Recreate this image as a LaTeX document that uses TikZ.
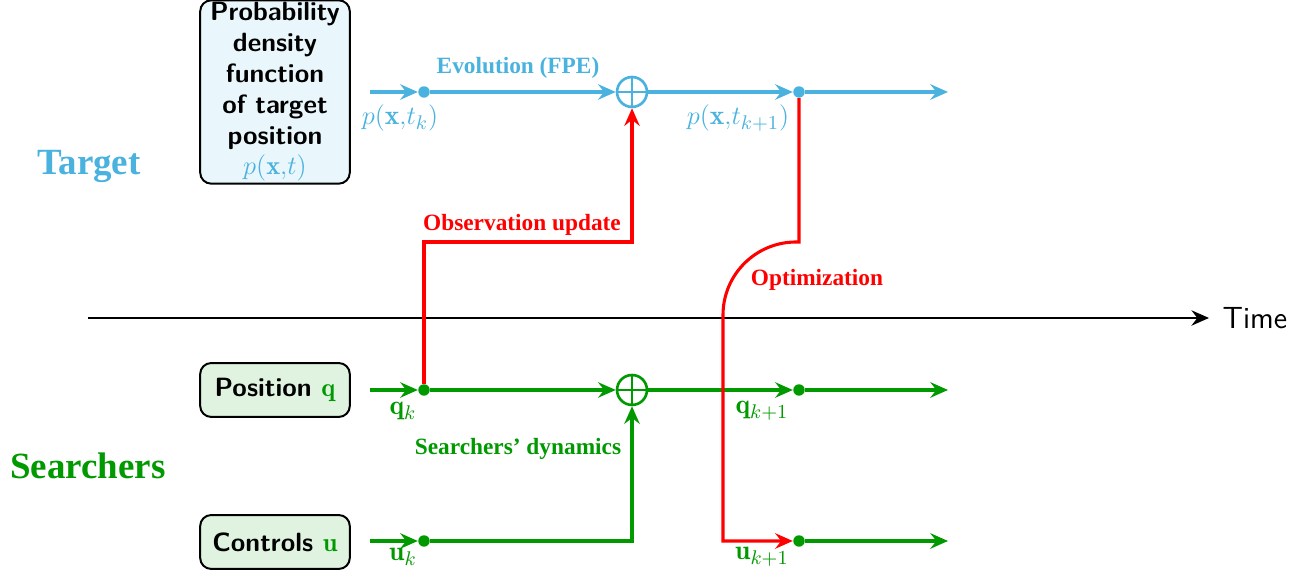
\documentclass[tikz,border=0pt]{standalone}
\usepackage{fontspec}
\usetikzlibrary{arrows.meta,positioning,calc}
\newfontfamily\lblfont{Liberation Serif}
\definecolor{tblue}{RGB}{74,178,222}
\definecolor{tgreen}{RGB}{0,153,0}

\begin{document}
\begin{tikzpicture}[x=0.4545pt,y=0.4545pt,
		font=\fontsize{12.5}{14}\selectfont,
		>={Stealth[length=8pt,width=7pt,inset=2.7pt]},
		box/.style={draw=black,line width=0.9pt,rounded corners=5pt,align=center,
			font=\fontsize{12}{14}\selectfont\sffamily\bfseries,minimum width=68pt,inner sep=1pt},
		dot/.style={circle,fill,inner sep=0pt,minimum size=5.2pt},
		sum/.style={circle,draw,line width=1.2pt,inner sep=0pt,minimum size=13.6pt},
		flow/.style={line width=1.4pt},
		lbl/.style={font=\fontsize{10.6}{12}\selectfont\lblfont\bfseries},
		side/.style={font=\fontsize{16.8}{19}\selectfont\lblfont\bfseries}]
		\useasboundingbox (0,0) rectangle (1296,580);
		% boxes
		\node[box,fill=tblue!12,minimum height=83pt] (pdf) at (275,488) {Probability\\density\\function\\of target\\position\\\textcolor{tblue}{$p(\mathbf{x}{,}t)$}};
		\node[box,fill=tgreen!12,minimum height=24.5pt] (pos) at (275,190) {Position \textcolor{tgreen}{$\mathbf{q}$}};
		\node[box,fill=tgreen!12,minimum height=24.5pt] (ctl) at (275,38) {Controls \textcolor{tgreen}{$\mathbf{u}$}};
		\node[side,tblue] (target) at (89,414) {Target};
		\node[side,tgreen] (searchers) at (88,114) {Searchers};
		%
		\coordinate (t0) at (88,262);
		\node[anchor=west,inner sep=6pt,font=\fontsize{13.9}{16}\selectfont\sffamily] (time) at (1209,262) {Time};
		\draw[->,line width=0.9pt] (t0) -- (time);
		% target
		\coordinate (bs) at (370,488);
		\node[dot,tblue] (b1) at (424,488) {};
		\node[sum,tblue,fill=white] (bp) at (632,488) {};
		\node[dot,tblue] (b2) at (799,488) {};
		\coordinate (be) at (948,488);
		\draw[tblue,line width=1.2pt] (bp.north) -- (bp.south) (bp.west) -- (bp.east);
		\draw[tblue,flow,->] (bs) -- (b1);
		\draw[tblue,flow,->] (b1) -- (bp);
		\draw[tblue,flow,->] (bp) -- (b2);
		\draw[tblue,flow,->] (b2) -- (be);
		\node[tblue] (pk) at (400,462) {$p(\mathbf{x}{,}t_k)$};
		\node[tblue] (pk1) at (738,462) {$p(\mathbf{x}{,}t_{k+1})$};
		\node[lbl,tblue] (evo) at (518,512) {Evolution (FPE)};
		% searchers
		\coordinate (qs) at (370,190);
		\node[dot,tgreen] (q1) at (424,190) {};
		\node[sum,tgreen,fill=white] (qp) at (632,190) {};
		\node[dot,tgreen] (q2) at (799,190) {};
		\coordinate (qe) at (948,190);
		\draw[tgreen,line width=1.2pt] (qp.north) -- (qp.south) (qp.west) -- (qp.east);
		\draw[tgreen,flow,->] (qs) -- (q1);
		\draw[tgreen,flow,->] (q1) -- (qp);
		\draw[tgreen,flow,->] (qp) -- (q2);
		\draw[tgreen,flow,->] (q2) -- (qe);
		\coordinate (us) at (370,39);
		\node[dot,tgreen] (u1) at (424,39) {};
		\node[dot,tgreen] (u2) at (799,39) {};
		\coordinate (ue) at (948,39);
		\draw[tgreen,flow,->] (us) -- (u1);
		\draw[tgreen,flow,->] (u1) -| (qp);
		\draw[tgreen,flow,->] (u2) -- (ue);
		\node[tgreen] (qk) at (403,169) {$\mathbf{q}_k$};
		\node[tgreen] (qk1) at (762,169) {$\mathbf{q}_{k+1}$};
		\node[tgreen] (uk) at (403,23) {$\mathbf{u}_k$};
		\node[tgreen] (uk1) at (762,23) {$\mathbf{u}_{k+1}$};
		\node[lbl,tgreen] (dyn) at (518,131) {Searchers’ dynamics};
		% red links
		\draw[red,flow,->] (q1) -- ++(0,148) -| (bp);
		\draw[red,flow,->] (b2) -- ++(0,-150) -- ++(-3,0) arc[start angle=90,end angle=180,radius=73] |- (u2);
		\node[lbl,red] (obs) at (522,355) {Observation update};
		\node[lbl,red] (opt) at (817,300) {Optimization};
	\end{tikzpicture}
\end{document}
